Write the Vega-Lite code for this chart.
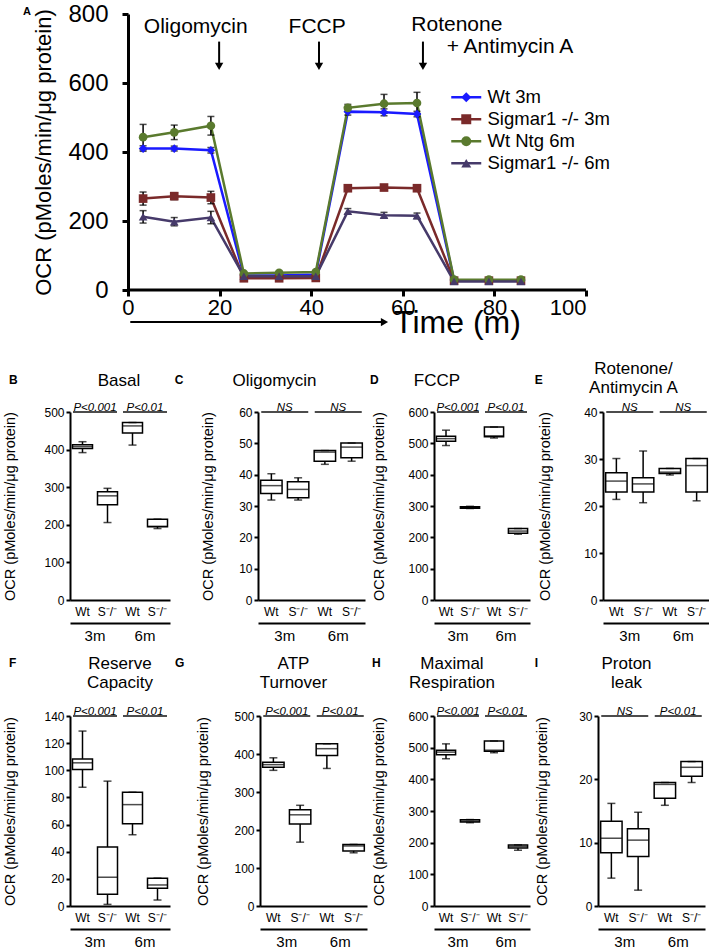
{
  "$schema": "https://vega.github.io/schema/vega-lite/v6.json",
  "background": "white",
  "padding": {"left": 2, "top": 2, "right": 1, "bottom": 0},
  "config": {
    "font": "Liberation Sans",
    "view": {"stroke": null},
    "axis": {"domainColor": "black", "tickColor": "black", "labelColor": "black", "titleColor": "black", "grid": false, "titleFontWeight": "normal", "labelOverlap": false},
    "title": {"color": "black", "subtitleColor": "black"}
  },
  "datasets": {
    "ocr": [
      {"series": "Wt 3m", "time": 3.3, "ocr": 410, "err": 8},
      {"series": "Wt 3m", "time": 10.1, "ocr": 410, "err": 7},
      {"series": "Wt 3m", "time": 18.1, "ocr": 405, "err": 8},
      {"series": "Wt 3m", "time": 25.3, "ocr": 42, "err": 3},
      {"series": "Wt 3m", "time": 33, "ocr": 42, "err": 3},
      {"series": "Wt 3m", "time": 41, "ocr": 45, "err": 3},
      {"series": "Wt 3m", "time": 48, "ocr": 517, "err": 10},
      {"series": "Wt 3m", "time": 55.9, "ocr": 515, "err": 10},
      {"series": "Wt 3m", "time": 63.1, "ocr": 510, "err": 8},
      {"series": "Wt 3m", "time": 71.2, "ocr": 28, "err": 2},
      {"series": "Wt 3m", "time": 78.8, "ocr": 28, "err": 2},
      {"series": "Wt 3m", "time": 85.8, "ocr": 28, "err": 2},
      {"series": "Sigmar1 -/- 3m", "time": 3.3, "ocr": 265, "err": 19},
      {"series": "Sigmar1 -/- 3m", "time": 10.1, "ocr": 272, "err": 10},
      {"series": "Sigmar1 -/- 3m", "time": 18.1, "ocr": 268, "err": 18},
      {"series": "Sigmar1 -/- 3m", "time": 25.3, "ocr": 34, "err": 3},
      {"series": "Sigmar1 -/- 3m", "time": 33, "ocr": 34, "err": 3},
      {"series": "Sigmar1 -/- 3m", "time": 41, "ocr": 35, "err": 3},
      {"series": "Sigmar1 -/- 3m", "time": 48, "ocr": 295, "err": 8},
      {"series": "Sigmar1 -/- 3m", "time": 55.9, "ocr": 297, "err": 6},
      {"series": "Sigmar1 -/- 3m", "time": 63.1, "ocr": 295, "err": 6},
      {"series": "Sigmar1 -/- 3m", "time": 71.2, "ocr": 27, "err": 2},
      {"series": "Sigmar1 -/- 3m", "time": 78.8, "ocr": 27, "err": 2},
      {"series": "Sigmar1 -/- 3m", "time": 85.8, "ocr": 27, "err": 2},
      {"series": "Wt Ntg 6m", "time": 3.3, "ocr": 443, "err": 37},
      {"series": "Wt Ntg 6m", "time": 10.1, "ocr": 457, "err": 21},
      {"series": "Wt Ntg 6m", "time": 18.1, "ocr": 476, "err": 27},
      {"series": "Wt Ntg 6m", "time": 25.3, "ocr": 48, "err": 4},
      {"series": "Wt Ntg 6m", "time": 33, "ocr": 50, "err": 4},
      {"series": "Wt Ntg 6m", "time": 41, "ocr": 52, "err": 4},
      {"series": "Wt Ntg 6m", "time": 48, "ocr": 528, "err": 10},
      {"series": "Wt Ntg 6m", "time": 55.9, "ocr": 540, "err": 27},
      {"series": "Wt Ntg 6m", "time": 63.1, "ocr": 542, "err": 31},
      {"series": "Wt Ntg 6m", "time": 71.2, "ocr": 30, "err": 3},
      {"series": "Wt Ntg 6m", "time": 78.8, "ocr": 30, "err": 3},
      {"series": "Wt Ntg 6m", "time": 85.8, "ocr": 30, "err": 3},
      {"series": "Sigmar1 -/- 6m", "time": 3.3, "ocr": 212, "err": 18},
      {"series": "Sigmar1 -/- 6m", "time": 10.1, "ocr": 198, "err": 12},
      {"series": "Sigmar1 -/- 6m", "time": 18.1, "ocr": 210, "err": 18},
      {"series": "Sigmar1 -/- 6m", "time": 25.3, "ocr": 40, "err": 3},
      {"series": "Sigmar1 -/- 6m", "time": 33, "ocr": 40, "err": 3},
      {"series": "Sigmar1 -/- 6m", "time": 41, "ocr": 40, "err": 3},
      {"series": "Sigmar1 -/- 6m", "time": 48, "ocr": 228, "err": 8},
      {"series": "Sigmar1 -/- 6m", "time": 55.9, "ocr": 217, "err": 8},
      {"series": "Sigmar1 -/- 6m", "time": 63.1, "ocr": 215, "err": 8},
      {"series": "Sigmar1 -/- 6m", "time": 71.2, "ocr": 25, "err": 2},
      {"series": "Sigmar1 -/- 6m", "time": 78.8, "ocr": 25, "err": 2},
      {"series": "Sigmar1 -/- 6m", "time": 85.8, "ocr": 25, "err": 2}
    ],
    "basal": [
      {"group": "Wt 3m", "min": 392, "q1": 403, "median": 408, "q3": 413, "max": 421},
      {"group": "S⁻/⁻ 3m", "min": 206, "q1": 253, "median": 277, "q3": 288, "max": 297},
      {"group": "Wt 6m", "min": 412, "q1": 444, "median": 463, "q3": 472, "max": 472},
      {"group": "S⁻/⁻ 6m", "min": 190, "q1": 195, "median": 196, "q3": 215, "max": 215}
    ],
    "oligomycin": [
      {"group": "Wt 3m", "min": 31.9, "q1": 34.0, "median": 36.5, "q3": 38.2, "max": 40.3},
      {"group": "S⁻/⁻ 3m", "min": 31.9, "q1": 32.6, "median": 35.3, "q3": 37.7, "max": 39.0},
      {"group": "Wt 6m", "min": 43.3, "q1": 44.3, "median": 47.2, "q3": 47.7, "max": 47.7},
      {"group": "S⁻/⁻ 6m", "min": 44.3, "q1": 45.4, "median": 48.8, "q3": 50.1, "max": 50.1}
    ],
    "fccp": [
      {"group": "Wt 3m", "min": 493, "q1": 507, "median": 515, "q3": 523, "max": 542},
      {"group": "S⁻/⁻ 3m", "min": 292, "q1": 293, "median": 296, "q3": 298, "max": 299},
      {"group": "Wt 6m", "min": 517, "q1": 521, "median": 524, "q3": 552, "max": 552},
      {"group": "S⁻/⁻ 6m", "min": 210, "q1": 213, "median": 220, "q3": 228, "max": 228}
    ],
    "rotenone": [
      {"group": "Wt 3m", "min": 21.4, "q1": 23.0, "median": 25.3, "q3": 27.1, "max": 30.1},
      {"group": "S⁻/⁻ 3m", "min": 20.7, "q1": 23.0, "median": 24.7, "q3": 26.0, "max": 31.7},
      {"group": "Wt 6m", "min": 26.6, "q1": 26.9, "median": 27.2, "q3": 28.0, "max": 28.0},
      {"group": "S⁻/⁻ 6m", "min": 21.1, "q1": 23.0, "median": 28.6, "q3": 30.1, "max": 30.1}
    ],
    "reserve": [
      {"group": "Wt 3m", "min": 87.5, "q1": 100.5, "median": 105.5, "q3": 108.4, "max": 128.9},
      {"group": "S⁻/⁻ 3m", "min": 1.2, "q1": 8.6, "median": 21.2, "q3": 43.4, "max": 92},
      {"group": "Wt 6m", "min": 52.5, "q1": 60.6, "median": 74.7, "q3": 83.8, "max": 83.8},
      {"group": "S⁻/⁻ 6m", "min": 4.4, "q1": 13.1, "median": 15.5, "q3": 20.5, "max": 20.5}
    ],
    "atp": [
      {"group": "Wt 3m", "min": 357, "q1": 365, "median": 372, "q3": 378, "max": 390},
      {"group": "S⁻/⁻ 3m", "min": 168, "q1": 216, "median": 240, "q3": 253, "max": 265},
      {"group": "Wt 6m", "min": 362, "q1": 396, "median": 414, "q3": 427, "max": 427},
      {"group": "S⁻/⁻ 6m", "min": 140, "q1": 145, "median": 158, "q3": 162, "max": 162}
    ],
    "maximal": [
      {"group": "Wt 3m", "min": 465, "q1": 478, "median": 486, "q3": 492, "max": 512},
      {"group": "S⁻/⁻ 3m", "min": 263, "q1": 265, "median": 268, "q3": 272, "max": 273},
      {"group": "Wt 6m", "min": 484, "q1": 489, "median": 492, "q3": 521, "max": 521},
      {"group": "S⁻/⁻ 6m", "min": 176, "q1": 183, "median": 188, "q3": 193, "max": 193}
    ],
    "proton": [
      {"group": "Wt 3m", "min": 4.4, "q1": 8.4, "median": 10.7, "q3": 13.4, "max": 16.2},
      {"group": "S⁻/⁻ 3m", "min": 2.5, "q1": 7.8, "median": 10.4, "q3": 12.2, "max": 14.8},
      {"group": "Wt 6m", "min": 15.9, "q1": 17.0, "median": 19.2, "q3": 19.5, "max": 19.5},
      {"group": "S⁻/⁻ 6m", "min": 19.5, "q1": 20.5, "median": 21.9, "q3": 22.8, "max": 22.8}
    ]
  },
  "spacing": 22,
  "vconcat": [
    {
      "width": 516,
      "height": 276,
      "title": {"text": "A", "anchor": "start", "frame": "bounds", "fontSize": 11, "fontWeight": "bold", "dx": -10, "dy": 15, "offset": 0},
      "layer": [
        {
          "data": {"name": "ocr"},
          "encoding": {
            "x": {"field": "time", "type": "quantitative", "scale": {"domain": [-12.66, 100], "nice": false, "zero": false},
              "axis": {"values": [0, 20, 40, 60, 80, 100], "title": "Time (m)", "titleFontSize": 32, "titleX": 387, "titleY": 32, "titleAlign": "center", "titleBaseline": "middle", "labelFontSize": 22, "domain": false, "tickWidth": 3, "tickSize": 6, "labelPadding": 1}},
            "y": {"field": "ocr", "type": "quantitative", "scale": {"domain": [0, 800]},
              "axis": {"offset": -58, "values": [0, 200, 400, 600, 800], "title": "OCR (pMoles/min/μg protein)", "titleFontSize": 22, "titlePadding": 12, "labelFontSize": 24, "domainWidth": 3, "tickWidth": 3, "tickSize": 6, "labelPadding": 14}}
          },
          "layer": [
            {
              "mark": {"type": "line", "strokeWidth": 2.5},
              "encoding": {
                "color": {"field": "series", "type": "nominal",
                  "scale": {"domain": ["Wt 3m", "Sigmar1 -/- 3m", "Wt Ntg 6m", "Sigmar1 -/- 6m", " "], "range": ["#1a1aff", "#7a2a2a", "#5a7a2e", "#463a6a", "rgba(0,0,0,0)"]},
                  "legend": {
                    "orient": "none", "legendX": 387, "legendY": 74, "title": null, "padding": 0,
                    "labelFontSize": 18.5, "labelOffset": 12, "rowPadding": 3, "labelLimit": 0, "labelOpacity": 0,
                    "symbolType": "M-3,0H3", "symbolSize": 100, "symbolStrokeWidth": 2.5
                  }
                }
              }
            },
            {
              "mark": {"type": "errorbar", "ticks": {"size": 7, "color": "black"}, "color": "black", "thickness": 1.5},
              "encoding": {
                "y": {"field": "ocr", "type": "quantitative"},
                "yError": {"field": "err"},
                "detail": {"field": "series", "type": "nominal"}
              }
            },
            {
              "mark": {"type": "point", "filled": true, "opacity": 1, "size": 75},
              "encoding": {
                "fill": {"field": "series", "type": "nominal",
                  "scale": {"domain": ["Wt 3m", "Sigmar1 -/- 3m", "Wt Ntg 6m", "Sigmar1 -/- 6m"], "range": ["#1a1aff", "#7a2a2a", "#5a7a2e", "#463a6a"]},
                  "legend": {
                    "orient": "none", "legendX": 387, "legendY": 74, "title": null, "padding": 0,
                    "labelFontSize": 18.5, "labelOffset": 12, "rowPadding": 3, "labelLimit": 0, "symbolSize": 100, "symbolStrokeWidth": 0
                  }
                },
                "shape": {"field": "series", "type": "nominal", "scale": {"domain": ["Wt 3m", "Sigmar1 -/- 3m", "Wt Ntg 6m", "Sigmar1 -/- 6m"], "range": ["diamond", "square", "circle", "triangle-up"]}}
              }
            }
          ]
        },
        {
          "data": {"values": [{"from": 0, "to": 100}]},
          "mark": {"type": "rule", "color": "black", "strokeWidth": 3},
          "encoding": {"x": {"field": "from", "type": "quantitative"}, "x2": {"field": "to"}, "y": {"datum": 0}}
        },
        {
          "data": {"values": [
            {"label": "Oligomycin", "t": 14.8, "v": 762},
            {"label": "FCCP", "t": 41.3, "v": 762},
            {"label": "Rotenone", "t": 71.8, "v": 768},
            {"label": "+ Antimycin A", "t": 83.4, "v": 704}
          ]},
          "mark": {"type": "text", "fontSize": 21, "color": "black"},
          "encoding": {
            "x": {"field": "t", "type": "quantitative"},
            "y": {"field": "v", "type": "quantitative"},
            "text": {"field": "label"}
          }
        },
        {
          "data": {"values": [{"t": 19.9}, {"t": 41.7}, {"t": 64.4}]},
          "layer": [
            {"mark": {"type": "rule", "color": "black", "strokeWidth": 2},
              "encoding": {"x": {"field": "t", "type": "quantitative"}, "y": {"datum": 720}, "y2": {"datum": 655}}},
            {"mark": {"type": "point", "shape": "triangle-down", "filled": true, "color": "black", "opacity": 1, "size": 70},
              "encoding": {"x": {"field": "t", "type": "quantitative"}, "y": {"datum": 648}}}
          ]
        },
        {
          "data": {"values": [{"from": 0.5, "to": 56}]},
          "layer": [
            {"mark": {"type": "rule", "color": "black", "strokeWidth": 2},
              "encoding": {"x": {"field": "from", "type": "quantitative"}, "x2": {"field": "to"}, "y": {"datum": -93}}},
            {"mark": {"type": "point", "shape": "triangle-right", "filled": true, "color": "black", "opacity": 1, "size": 70},
              "encoding": {"x": {"field": "to", "type": "quantitative"}, "y": {"datum": -93}}}
          ]
        }
      ]
    },
    {
      "spacing": 12,
      "vconcat": [
        {
          "spacing": 4,
          "hconcat": [
            {
              "title": {"text": "B", "anchor": "start", "frame": "bounds", "fontSize": 12, "fontWeight": "bold", "dx": 6, "dy": 15, "offset": 0},
              "vconcat": [{
                "width": 100, "height": 188,
                "title": {"text": "Basal", "anchor": "middle", "frame": "group", "fontSize": 17, "fontWeight": "normal", "dx": -1, "offset": 12},
                "layer": [
                  {
                    "data": {"name": "basal"},
                    "encoding": {"x": {"field": "group", "type": "nominal", "scale": {"type": "band", "domain": ["Wt 3m", "S⁻/⁻ 3m", "Wt 6m", "S⁻/⁻ 6m"], "paddingInner": 0.2, "paddingOuter": 0.1}, "axis": {"title": null, "labelExpr": "split(datum.label, ' ')[0]", "labelAngle": 0, "ticks": false, "domainWidth": 2, "labelFontSize": 12, "labelPadding": 6}}},
                    "layer": [
                      {"mark": {"type": "rule", "color": "black", "strokeWidth": 1.5}, "encoding": {"y": {"field": "min", "type": "quantitative", "scale": {"domain": [0, 500]}, "axis": {"values": [0, 100, 200, 300, 400, 500], "tickCount": 20, "labelOverlap": false, "title": "OCR (pMoles/min/μg protein)", "titleFontSize": 14.5, "titlePadding": 26, "labelFontSize": 12, "labelPadding": 2, "domainWidth": 2, "tickWidth": 2, "tickSize": 4}}, "y2": {"field": "max"}}},
                      {"mark": {"type": "bar", "fill": "white", "stroke": "black", "strokeWidth": 1.5}, "encoding": {"y": {"field": "q1", "type": "quantitative"}, "y2": {"field": "q3"}}},
                      {"mark": {"type": "tick", "color": "black", "thickness": 1.5, "size": 20}, "encoding": {"y": {"field": "median", "type": "quantitative"}}},
                      {"mark": {"type": "tick", "color": "black", "thickness": 1.5, "size": 8}, "encoding": {"y": {"field": "max", "type": "quantitative"}}},
                      {"mark": {"type": "tick", "color": "black", "thickness": 1.5, "size": 8}, "encoding": {"y": {"field": "min", "type": "quantitative"}}}
                    ]
                  },
                  {
                    "data": {"values": [{"age": "3m", "label": "P<0.001"}, {"age": "6m", "label": "P<0.01"}]},
                    "encoding": {"x": {"field": "age", "type": "nominal", "scale": {"type": "band", "domain": ["3m", "6m"], "paddingInner": 0.06, "paddingOuter": 0.03}, "axis": {"orient": "bottom", "offset": 23, "title": null, "ticks": false, "domainWidth": 2, "labelFontSize": 15, "labelPadding": 5, "labelAngle": 0}},
                      "y": {"datum": 500, "type": "quantitative", "axis": {"values": [0, 100, 200, 300, 400, 500], "tickCount": 20, "labelOverlap": false, "title": "OCR (pMoles/min/μg protein)", "titleFontSize": 14.5, "titlePadding": 26, "labelFontSize": 12, "labelPadding": 2, "domainWidth": 2, "tickWidth": 2, "tickSize": 4}}},
                    "layer": [
                      {"mark": {"type": "tick", "color": "black", "thickness": 2, "size": 44}},
                      {"mark": {"type": "text", "fontStyle": "italic", "fontSize": 11.5, "baseline": "bottom", "dy": 1, "color": "black"}, "encoding": {"text": {"field": "label"}}}
                    ]
                  }
                ],
                "resolve": {"scale": {"x": "independent"}, "axis": {"x": "independent"}}
              }]
            },
            {
              "title": {"text": "C", "anchor": "start", "frame": "bounds", "fontSize": 12, "fontWeight": "bold", "dx": -26, "dy": 15, "offset": 0},
              "vconcat": [{
                "width": 107, "height": 188,
                "title": {"text": "Oligomycin", "anchor": "middle", "frame": "group", "fontSize": 17, "fontWeight": "normal", "dx": -37, "offset": 12},
                "layer": [
                  {
                    "data": {"name": "oligomycin"},
                    "encoding": {"x": {"field": "group", "type": "nominal", "scale": {"type": "band", "domain": ["Wt 3m", "S⁻/⁻ 3m", "Wt 6m", "S⁻/⁻ 6m"], "paddingInner": 0.2, "paddingOuter": 0.1}, "axis": {"title": null, "labelExpr": "split(datum.label, ' ')[0]", "labelAngle": 0, "ticks": false, "domainWidth": 2, "labelFontSize": 12, "labelPadding": 6}}},
                    "layer": [
                      {"mark": {"type": "rule", "color": "black", "strokeWidth": 1.5}, "encoding": {"y": {"field": "min", "type": "quantitative", "scale": {"domain": [0, 60]}, "axis": {"values": [0, 10, 20, 30, 40, 50, 60], "tickCount": 20, "labelOverlap": false, "title": "OCR (pMoles/min/μg protein)", "titleFontSize": 14.5, "titlePadding": 23, "labelFontSize": 12, "labelPadding": 2, "domainWidth": 2, "tickWidth": 2, "tickSize": 4}}, "y2": {"field": "max"}}},
                      {"mark": {"type": "bar", "fill": "white", "stroke": "black", "strokeWidth": 1.5}, "encoding": {"y": {"field": "q1", "type": "quantitative"}, "y2": {"field": "q3"}}},
                      {"mark": {"type": "tick", "color": "black", "thickness": 1.5, "size": 21}, "encoding": {"y": {"field": "median", "type": "quantitative"}}},
                      {"mark": {"type": "tick", "color": "black", "thickness": 1.5, "size": 8}, "encoding": {"y": {"field": "max", "type": "quantitative"}}},
                      {"mark": {"type": "tick", "color": "black", "thickness": 1.5, "size": 8}, "encoding": {"y": {"field": "min", "type": "quantitative"}}}
                    ]
                  },
                  {
                    "data": {"values": [{"age": "3m", "label": "NS"}, {"age": "6m", "label": "NS"}]},
                    "encoding": {"x": {"field": "age", "type": "nominal", "scale": {"type": "band", "domain": ["3m", "6m"], "paddingInner": 0.06, "paddingOuter": 0.03}, "axis": {"orient": "bottom", "offset": 23, "title": null, "ticks": false, "domainWidth": 2, "labelFontSize": 15, "labelPadding": 5, "labelAngle": 0}},
                      "y": {"datum": 60, "type": "quantitative", "axis": {"values": [0, 10, 20, 30, 40, 50, 60], "tickCount": 20, "labelOverlap": false, "title": "OCR (pMoles/min/μg protein)", "titleFontSize": 14.5, "titlePadding": 23, "labelFontSize": 12, "labelPadding": 2, "domainWidth": 2, "tickWidth": 2, "tickSize": 4}}},
                    "layer": [
                      {"mark": {"type": "tick", "color": "black", "thickness": 2, "size": 47}},
                      {"mark": {"type": "text", "fontStyle": "italic", "fontSize": 11.5, "baseline": "bottom", "dy": 1, "color": "black"}, "encoding": {"text": {"field": "label"}}}
                    ]
                  }
                ],
                "resolve": {"scale": {"x": "independent"}, "axis": {"x": "independent"}}
              }]
            },
            {
              "title": {"text": "D", "anchor": "start", "frame": "bounds", "fontSize": 12, "fontWeight": "bold", "dx": -2, "dy": 15, "offset": 0},
              "vconcat": [{
                "width": 96, "height": 188,
                "title": {"text": "FCCP", "anchor": "middle", "frame": "group", "fontSize": 17, "fontWeight": "normal", "dx": -45, "offset": 12},
                "layer": [
                  {
                    "data": {"name": "fccp"},
                    "encoding": {"x": {"field": "group", "type": "nominal", "scale": {"type": "band", "domain": ["Wt 3m", "S⁻/⁻ 3m", "Wt 6m", "S⁻/⁻ 6m"], "paddingInner": 0.2, "paddingOuter": 0.1}, "axis": {"title": null, "labelExpr": "split(datum.label, ' ')[0]", "labelAngle": 0, "ticks": false, "domainWidth": 2, "labelFontSize": 12, "labelPadding": 6}}},
                    "layer": [
                      {"mark": {"type": "rule", "color": "black", "strokeWidth": 1.5}, "encoding": {"y": {"field": "min", "type": "quantitative", "scale": {"domain": [0, 600]}, "axis": {"values": [0, 100, 200, 300, 400, 500, 600], "tickCount": 20, "labelOverlap": false, "title": "OCR (pMoles/min/μg protein)", "titleFontSize": 14.5, "titlePadding": 21, "labelFontSize": 12, "labelPadding": 2, "domainWidth": 2, "tickWidth": 2, "tickSize": 4}}, "y2": {"field": "max"}}},
                      {"mark": {"type": "bar", "fill": "white", "stroke": "black", "strokeWidth": 1.5}, "encoding": {"y": {"field": "q1", "type": "quantitative"}, "y2": {"field": "q3"}}},
                      {"mark": {"type": "tick", "color": "black", "thickness": 1.5, "size": 19}, "encoding": {"y": {"field": "median", "type": "quantitative"}}},
                      {"mark": {"type": "tick", "color": "black", "thickness": 1.5, "size": 8}, "encoding": {"y": {"field": "max", "type": "quantitative"}}},
                      {"mark": {"type": "tick", "color": "black", "thickness": 1.5, "size": 8}, "encoding": {"y": {"field": "min", "type": "quantitative"}}}
                    ]
                  },
                  {
                    "data": {"values": [{"age": "3m", "label": "P<0.001"}, {"age": "6m", "label": "P<0.01"}]},
                    "encoding": {"x": {"field": "age", "type": "nominal", "scale": {"type": "band", "domain": ["3m", "6m"], "paddingInner": 0.06, "paddingOuter": 0.03}, "axis": {"orient": "bottom", "offset": 23, "title": null, "ticks": false, "domainWidth": 2, "labelFontSize": 15, "labelPadding": 5, "labelAngle": 0}},
                      "y": {"datum": 600, "type": "quantitative", "axis": {"values": [0, 100, 200, 300, 400, 500, 600], "tickCount": 20, "labelOverlap": false, "title": "OCR (pMoles/min/μg protein)", "titleFontSize": 14.5, "titlePadding": 21, "labelFontSize": 12, "labelPadding": 2, "domainWidth": 2, "tickWidth": 2, "tickSize": 4}}},
                    "layer": [
                      {"mark": {"type": "tick", "color": "black", "thickness": 2, "size": 42}},
                      {"mark": {"type": "text", "fontStyle": "italic", "fontSize": 11.5, "baseline": "bottom", "dy": 1, "color": "black"}, "encoding": {"text": {"field": "label"}}}
                    ]
                  }
                ],
                "resolve": {"scale": {"x": "independent"}, "axis": {"x": "independent"}}
              }]
            },
            {
              "title": {"text": "E", "anchor": "start", "frame": "bounds", "fontSize": 12, "fontWeight": "bold", "dx": -3, "dy": 27, "offset": 0},
              "vconcat": [{
                "width": 107, "height": 188,
                "title": {"text": ["Rotenone/", "Antimycin A"], "anchor": "middle", "frame": "group", "fontSize": 17, "fontWeight": "normal", "lineHeight": 19, "dx": -23, "offset": 5},
                "layer": [
                  {
                    "data": {"name": "rotenone"},
                    "encoding": {"x": {"field": "group", "type": "nominal", "scale": {"type": "band", "domain": ["Wt 3m", "S⁻/⁻ 3m", "Wt 6m", "S⁻/⁻ 6m"], "paddingInner": 0.2, "paddingOuter": 0.1}, "axis": {"title": null, "labelExpr": "split(datum.label, ' ')[0]", "labelAngle": 0, "ticks": false, "domainWidth": 2, "labelFontSize": 12, "labelPadding": 6}}},
                    "layer": [
                      {"mark": {"type": "rule", "color": "black", "strokeWidth": 1.5}, "encoding": {"y": {"field": "min", "type": "quantitative", "scale": {"domain": [0, 40]}, "axis": {"values": [0, 10, 20, 30, 40], "tickCount": 20, "labelOverlap": false, "title": "OCR (pMoles/min/μg protein)", "titleFontSize": 14.5, "titlePadding": 31, "labelFontSize": 12, "labelPadding": 2, "domainWidth": 2, "tickWidth": 2, "tickSize": 4}}, "y2": {"field": "max"}}},
                      {"mark": {"type": "bar", "fill": "white", "stroke": "black", "strokeWidth": 1.5}, "encoding": {"y": {"field": "q1", "type": "quantitative"}, "y2": {"field": "q3"}}},
                      {"mark": {"type": "tick", "color": "black", "thickness": 1.5, "size": 21}, "encoding": {"y": {"field": "median", "type": "quantitative"}}},
                      {"mark": {"type": "tick", "color": "black", "thickness": 1.5, "size": 8}, "encoding": {"y": {"field": "max", "type": "quantitative"}}},
                      {"mark": {"type": "tick", "color": "black", "thickness": 1.5, "size": 8}, "encoding": {"y": {"field": "min", "type": "quantitative"}}}
                    ]
                  },
                  {
                    "data": {"values": [{"age": "3m", "label": "NS"}, {"age": "6m", "label": "NS"}]},
                    "encoding": {"x": {"field": "age", "type": "nominal", "scale": {"type": "band", "domain": ["3m", "6m"], "paddingInner": 0.06, "paddingOuter": 0.03}, "axis": {"orient": "bottom", "offset": 23, "title": null, "ticks": false, "domainWidth": 2, "labelFontSize": 15, "labelPadding": 5, "labelAngle": 0}},
                      "y": {"datum": 40, "type": "quantitative", "axis": {"values": [0, 10, 20, 30, 40], "tickCount": 20, "labelOverlap": false, "title": "OCR (pMoles/min/μg protein)", "titleFontSize": 14.5, "titlePadding": 31, "labelFontSize": 12, "labelPadding": 2, "domainWidth": 2, "tickWidth": 2, "tickSize": 4}}},
                    "layer": [
                      {"mark": {"type": "tick", "color": "black", "thickness": 2, "size": 47}},
                      {"mark": {"type": "text", "fontStyle": "italic", "fontSize": 11.5, "baseline": "bottom", "dy": 1, "color": "black"}, "encoding": {"text": {"field": "label"}}}
                    ]
                  }
                ],
                "resolve": {"scale": {"x": "independent"}, "axis": {"x": "independent"}}
              }]
            }
          ]
        },
        {
          "spacing": 4,
          "hconcat": [
            {
              "title": {"text": "F", "anchor": "start", "frame": "bounds", "fontSize": 12, "fontWeight": "bold", "dx": 6, "dy": 15, "offset": 0},
              "vconcat": [{
                "width": 100, "height": 190,
                "title": {"text": ["Reserve", "Capacity"], "anchor": "middle", "frame": "group", "fontSize": 17, "fontWeight": "normal", "lineHeight": 19, "dx": 0, "offset": 14},
                "layer": [
                  {
                    "data": {"name": "reserve"},
                    "encoding": {"x": {"field": "group", "type": "nominal", "scale": {"type": "band", "domain": ["Wt 3m", "S⁻/⁻ 3m", "Wt 6m", "S⁻/⁻ 6m"], "paddingInner": 0.2, "paddingOuter": 0.1}, "axis": {"title": null, "labelExpr": "split(datum.label, ' ')[0]", "labelAngle": 0, "ticks": false, "domainWidth": 2, "labelFontSize": 12, "labelPadding": 6}}},
                    "layer": [
                      {"mark": {"type": "rule", "color": "black", "strokeWidth": 1.5}, "encoding": {"y": {"field": "min", "type": "quantitative", "scale": {"domain": [0, 140]}, "axis": {"values": [0, 20, 40, 60, 80, 100, 120, 140], "tickCount": 20, "labelOverlap": false, "title": "OCR (pMoles/min/μg protein)", "titleFontSize": 14.5, "titlePadding": 26, "labelFontSize": 12, "labelPadding": 2, "domainWidth": 2, "tickWidth": 2, "tickSize": 4}}, "y2": {"field": "max"}}},
                      {"mark": {"type": "bar", "fill": "white", "stroke": "black", "strokeWidth": 1.5}, "encoding": {"y": {"field": "q1", "type": "quantitative"}, "y2": {"field": "q3"}}},
                      {"mark": {"type": "tick", "color": "black", "thickness": 1.5, "size": 20}, "encoding": {"y": {"field": "median", "type": "quantitative"}}},
                      {"mark": {"type": "tick", "color": "black", "thickness": 1.5, "size": 8}, "encoding": {"y": {"field": "max", "type": "quantitative"}}},
                      {"mark": {"type": "tick", "color": "black", "thickness": 1.5, "size": 8}, "encoding": {"y": {"field": "min", "type": "quantitative"}}}
                    ]
                  },
                  {
                    "data": {"values": [{"age": "3m", "label": "P<0.001"}, {"age": "6m", "label": "P<0.01"}]},
                    "encoding": {"x": {"field": "age", "type": "nominal", "scale": {"type": "band", "domain": ["3m", "6m"], "paddingInner": 0.06, "paddingOuter": 0.03}, "axis": {"orient": "bottom", "offset": 23, "title": null, "ticks": false, "domainWidth": 2, "labelFontSize": 15, "labelPadding": 5, "labelAngle": 0}},
                      "y": {"datum": 140, "type": "quantitative", "axis": {"values": [0, 20, 40, 60, 80, 100, 120, 140], "tickCount": 20, "labelOverlap": false, "title": "OCR (pMoles/min/μg protein)", "titleFontSize": 14.5, "titlePadding": 26, "labelFontSize": 12, "labelPadding": 2, "domainWidth": 2, "tickWidth": 2, "tickSize": 4}}},
                    "layer": [
                      {"mark": {"type": "tick", "color": "black", "thickness": 2, "size": 44}},
                      {"mark": {"type": "text", "fontStyle": "italic", "fontSize": 11.5, "baseline": "bottom", "dy": 1, "color": "black"}, "encoding": {"text": {"field": "label"}}}
                    ]
                  }
                ],
                "resolve": {"scale": {"x": "independent"}, "axis": {"x": "independent"}}
              }]
            },
            {
              "title": {"text": "G", "anchor": "start", "frame": "bounds", "fontSize": 12, "fontWeight": "bold", "dx": -21, "dy": 15, "offset": 0},
              "vconcat": [{
                "width": 107, "height": 190,
                "title": {"text": ["ATP", "Turnover"], "anchor": "middle", "frame": "group", "fontSize": 17, "fontWeight": "normal", "lineHeight": 19, "dx": -20, "offset": 14},
                "layer": [
                  {
                    "data": {"name": "atp"},
                    "encoding": {"x": {"field": "group", "type": "nominal", "scale": {"type": "band", "domain": ["Wt 3m", "S⁻/⁻ 3m", "Wt 6m", "S⁻/⁻ 6m"], "paddingInner": 0.2, "paddingOuter": 0.1}, "axis": {"title": null, "labelExpr": "split(datum.label, ' ')[0]", "labelAngle": 0, "ticks": false, "domainWidth": 2, "labelFontSize": 12, "labelPadding": 6}}},
                    "layer": [
                      {"mark": {"type": "rule", "color": "black", "strokeWidth": 1.5}, "encoding": {"y": {"field": "min", "type": "quantitative", "scale": {"domain": [0, 500]}, "axis": {"values": [0, 100, 200, 300, 400, 500], "tickCount": 20, "labelOverlap": false, "title": "OCR (pMoles/min/μg protein)", "titleFontSize": 14.5, "titlePadding": 23, "labelFontSize": 12, "labelPadding": 2, "domainWidth": 2, "tickWidth": 2, "tickSize": 4}}, "y2": {"field": "max"}}},
                      {"mark": {"type": "bar", "fill": "white", "stroke": "black", "strokeWidth": 1.5}, "encoding": {"y": {"field": "q1", "type": "quantitative"}, "y2": {"field": "q3"}}},
                      {"mark": {"type": "tick", "color": "black", "thickness": 1.5, "size": 21}, "encoding": {"y": {"field": "median", "type": "quantitative"}}},
                      {"mark": {"type": "tick", "color": "black", "thickness": 1.5, "size": 8}, "encoding": {"y": {"field": "max", "type": "quantitative"}}},
                      {"mark": {"type": "tick", "color": "black", "thickness": 1.5, "size": 8}, "encoding": {"y": {"field": "min", "type": "quantitative"}}}
                    ]
                  },
                  {
                    "data": {"values": [{"age": "3m", "label": "P<0.001"}, {"age": "6m", "label": "P<0.01"}]},
                    "encoding": {"x": {"field": "age", "type": "nominal", "scale": {"type": "band", "domain": ["3m", "6m"], "paddingInner": 0.06, "paddingOuter": 0.03}, "axis": {"orient": "bottom", "offset": 23, "title": null, "ticks": false, "domainWidth": 2, "labelFontSize": 15, "labelPadding": 5, "labelAngle": 0}},
                      "y": {"datum": 500, "type": "quantitative", "axis": {"values": [0, 100, 200, 300, 400, 500], "tickCount": 20, "labelOverlap": false, "title": "OCR (pMoles/min/μg protein)", "titleFontSize": 14.5, "titlePadding": 23, "labelFontSize": 12, "labelPadding": 2, "domainWidth": 2, "tickWidth": 2, "tickSize": 4}}},
                    "layer": [
                      {"mark": {"type": "tick", "color": "black", "thickness": 2, "size": 47}},
                      {"mark": {"type": "text", "fontStyle": "italic", "fontSize": 11.5, "baseline": "bottom", "dy": 1, "color": "black"}, "encoding": {"text": {"field": "label"}}}
                    ]
                  }
                ],
                "resolve": {"scale": {"x": "independent"}, "axis": {"x": "independent"}}
              }]
            },
            {
              "title": {"text": "H", "anchor": "start", "frame": "bounds", "fontSize": 12, "fontWeight": "bold", "dx": 0, "dy": 15, "offset": 0},
              "vconcat": [{
                "width": 96, "height": 190,
                "title": {"text": ["Maximal", "Respiration"], "anchor": "middle", "frame": "group", "fontSize": 17, "fontWeight": "normal", "lineHeight": 19, "dx": -30, "offset": 14},
                "layer": [
                  {
                    "data": {"name": "maximal"},
                    "encoding": {"x": {"field": "group", "type": "nominal", "scale": {"type": "band", "domain": ["Wt 3m", "S⁻/⁻ 3m", "Wt 6m", "S⁻/⁻ 6m"], "paddingInner": 0.2, "paddingOuter": 0.1}, "axis": {"title": null, "labelExpr": "split(datum.label, ' ')[0]", "labelAngle": 0, "ticks": false, "domainWidth": 2, "labelFontSize": 12, "labelPadding": 6}}},
                    "layer": [
                      {"mark": {"type": "rule", "color": "black", "strokeWidth": 1.5}, "encoding": {"y": {"field": "min", "type": "quantitative", "scale": {"domain": [0, 600]}, "axis": {"values": [0, 100, 200, 300, 400, 500, 600], "tickCount": 20, "labelOverlap": false, "title": "OCR (pMoles/min/μg protein)", "titleFontSize": 14.5, "titlePadding": 21, "labelFontSize": 12, "labelPadding": 2, "domainWidth": 2, "tickWidth": 2, "tickSize": 4}}, "y2": {"field": "max"}}},
                      {"mark": {"type": "bar", "fill": "white", "stroke": "black", "strokeWidth": 1.5}, "encoding": {"y": {"field": "q1", "type": "quantitative"}, "y2": {"field": "q3"}}},
                      {"mark": {"type": "tick", "color": "black", "thickness": 1.5, "size": 19}, "encoding": {"y": {"field": "median", "type": "quantitative"}}},
                      {"mark": {"type": "tick", "color": "black", "thickness": 1.5, "size": 8}, "encoding": {"y": {"field": "max", "type": "quantitative"}}},
                      {"mark": {"type": "tick", "color": "black", "thickness": 1.5, "size": 8}, "encoding": {"y": {"field": "min", "type": "quantitative"}}}
                    ]
                  },
                  {
                    "data": {"values": [{"age": "3m", "label": "P<0.001"}, {"age": "6m", "label": "P<0.01"}]},
                    "encoding": {"x": {"field": "age", "type": "nominal", "scale": {"type": "band", "domain": ["3m", "6m"], "paddingInner": 0.06, "paddingOuter": 0.03}, "axis": {"orient": "bottom", "offset": 23, "title": null, "ticks": false, "domainWidth": 2, "labelFontSize": 15, "labelPadding": 5, "labelAngle": 0}},
                      "y": {"datum": 600, "type": "quantitative", "axis": {"values": [0, 100, 200, 300, 400, 500, 600], "tickCount": 20, "labelOverlap": false, "title": "OCR (pMoles/min/μg protein)", "titleFontSize": 14.5, "titlePadding": 21, "labelFontSize": 12, "labelPadding": 2, "domainWidth": 2, "tickWidth": 2, "tickSize": 4}}},
                    "layer": [
                      {"mark": {"type": "tick", "color": "black", "thickness": 2, "size": 42}},
                      {"mark": {"type": "text", "fontStyle": "italic", "fontSize": 11.5, "baseline": "bottom", "dy": 1, "color": "black"}, "encoding": {"text": {"field": "label"}}}
                    ]
                  }
                ],
                "resolve": {"scale": {"x": "independent"}, "axis": {"x": "independent"}}
              }]
            },
            {
              "title": {"text": "I", "anchor": "start", "frame": "bounds", "fontSize": 12, "fontWeight": "bold", "dx": 0, "dy": 15, "offset": 0},
              "vconcat": [{
                "width": 107, "height": 190,
                "title": {"text": ["Proton", "leak"], "anchor": "middle", "frame": "group", "fontSize": 17, "fontWeight": "normal", "lineHeight": 19, "dx": -25, "offset": 14},
                "layer": [
                  {
                    "data": {"name": "proton"},
                    "encoding": {"x": {"field": "group", "type": "nominal", "scale": {"type": "band", "domain": ["Wt 3m", "S⁻/⁻ 3m", "Wt 6m", "S⁻/⁻ 6m"], "paddingInner": 0.2, "paddingOuter": 0.1}, "axis": {"title": null, "labelExpr": "split(datum.label, ' ')[0]", "labelAngle": 0, "ticks": false, "domainWidth": 2, "labelFontSize": 12, "labelPadding": 6}}},
                    "layer": [
                      {"mark": {"type": "rule", "color": "black", "strokeWidth": 1.5}, "encoding": {"y": {"field": "min", "type": "quantitative", "scale": {"domain": [0, 30]}, "axis": {"values": [0, 10, 20, 30], "tickCount": 20, "labelOverlap": false, "title": "OCR (pMoles/min/μg protein)", "titleFontSize": 14.5, "titlePadding": 29, "labelFontSize": 12, "labelPadding": 2, "domainWidth": 2, "tickWidth": 2, "tickSize": 4}}, "y2": {"field": "max"}}},
                      {"mark": {"type": "bar", "fill": "white", "stroke": "black", "strokeWidth": 1.5}, "encoding": {"y": {"field": "q1", "type": "quantitative"}, "y2": {"field": "q3"}}},
                      {"mark": {"type": "tick", "color": "black", "thickness": 1.5, "size": 21}, "encoding": {"y": {"field": "median", "type": "quantitative"}}},
                      {"mark": {"type": "tick", "color": "black", "thickness": 1.5, "size": 8}, "encoding": {"y": {"field": "max", "type": "quantitative"}}},
                      {"mark": {"type": "tick", "color": "black", "thickness": 1.5, "size": 8}, "encoding": {"y": {"field": "min", "type": "quantitative"}}}
                    ]
                  },
                  {
                    "data": {"values": [{"age": "3m", "label": "NS"}, {"age": "6m", "label": "P<0.01"}]},
                    "encoding": {"x": {"field": "age", "type": "nominal", "scale": {"type": "band", "domain": ["3m", "6m"], "paddingInner": 0.06, "paddingOuter": 0.03}, "axis": {"orient": "bottom", "offset": 23, "title": null, "ticks": false, "domainWidth": 2, "labelFontSize": 15, "labelPadding": 5, "labelAngle": 0}},
                      "y": {"datum": 30, "type": "quantitative", "axis": {"values": [0, 10, 20, 30], "tickCount": 20, "labelOverlap": false, "title": "OCR (pMoles/min/μg protein)", "titleFontSize": 14.5, "titlePadding": 29, "labelFontSize": 12, "labelPadding": 2, "domainWidth": 2, "tickWidth": 2, "tickSize": 4}}},
                    "layer": [
                      {"mark": {"type": "tick", "color": "black", "thickness": 2, "size": 47}},
                      {"mark": {"type": "text", "fontStyle": "italic", "fontSize": 11.5, "baseline": "bottom", "dy": 1, "color": "black"}, "encoding": {"text": {"field": "label"}}}
                    ]
                  }
                ],
                "resolve": {"scale": {"x": "independent"}, "axis": {"x": "independent"}}
              }]
            }
          ]
        }
      ]
    }
  ]
}
